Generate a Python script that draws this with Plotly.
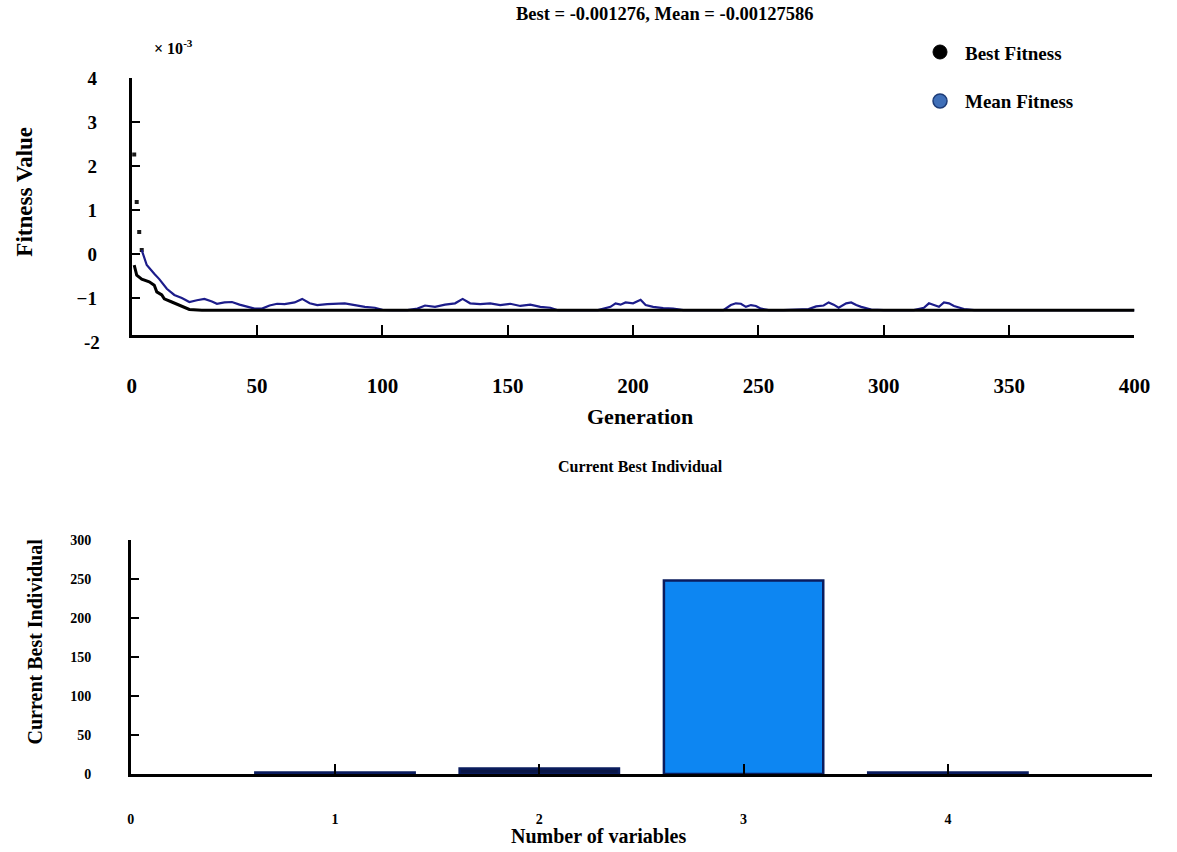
import plotly.graph_objects as go

# ---------------- data ----------------
# Top panel: fitness values (in units of 1e-3) per generation
best_gen = [1, 2, 4, 7, 9, 10, 12, 13, 16, 19, 23, 28, 100, 200, 300, 400]
best_val = [-0.25, -0.48, -0.57, -0.63, -0.71, -0.86, -0.93, -1.02, -1.09, -1.16,
            -1.26, -1.276, -1.276, -1.276, -1.276, -1.276]

mean_gen = [1, 2, 3, 4, 6, 9, 11, 14, 17, 20, 23, 26, 29, 32, 34, 37, 40, 43, 46, 49,
            52, 55, 58, 61, 65, 68, 71, 74, 78, 81, 85, 89, 93, 97, 100, 104, 110, 114,
            117, 121, 125, 129, 132, 135, 139, 143, 147, 151, 155, 159, 163, 167, 170,
            175, 180, 186, 191, 193, 195, 197, 200, 203, 205, 208, 212, 216, 220, 225,
            230, 236, 239, 241, 243, 245, 247, 249, 251, 254, 260, 266, 270, 273, 276,
            278, 280, 282, 285, 287, 289, 291, 293, 295, 300, 306, 312, 316, 318, 320,
            322, 324, 326, 328, 330, 332, 336, 345, 360, 380, 400]
mean_val = [2.26, 1.18, 0.50, 0.09, -0.25, -0.45, -0.57, -0.79, -0.93, -1.00, -1.09,
            -1.05, -1.02, -1.08, -1.13, -1.10, -1.09, -1.15, -1.20, -1.24, -1.24, -1.17,
            -1.13, -1.14, -1.10, -1.02, -1.12, -1.16, -1.14, -1.13, -1.12, -1.16, -1.20,
            -1.22, -1.27, -1.276, -1.276, -1.24, -1.17, -1.20, -1.15, -1.12, -1.02, -1.12,
            -1.14, -1.12, -1.16, -1.13, -1.18, -1.15, -1.20, -1.22, -1.276, -1.276, -1.27,
            -1.276, -1.20, -1.12, -1.15, -1.10, -1.12, -1.04, -1.16, -1.20, -1.23, -1.24,
            -1.276, -1.276, -1.27, -1.276, -1.16, -1.12, -1.13, -1.20, -1.16, -1.18, -1.24,
            -1.276, -1.276, -1.27, -1.25, -1.19, -1.17, -1.10, -1.15, -1.22, -1.12, -1.10,
            -1.16, -1.20, -1.23, -1.26, -1.276, -1.27, -1.276, -1.22, -1.12, -1.16, -1.20,
            -1.10, -1.12, -1.18, -1.22, -1.25, -1.276, -1.276, -1.276, -1.276, -1.276]

gen_ticks = [0, 50, 100, 150, 200, 250, 300, 350, 400]
fit_ticks = [-1, 0, 1, 2, 3, 4]

# Bottom panel: current best individual
var_idx = [1, 2, 3, 4]
var_val = [2, 7, 248, 2]
var_ticks = [0, 1, 2, 3, 4, 5]
var_ticktext = ["0", "1", "2", "3", "4", ""]
ind_ticks = [0, 50, 100, 150, 200, 250, 300]

# ---------------- figure ----------------
W, H = 1177, 852
AREA_W, AREA_TOP, AREA_H = 1177.0, 8.0, 834.0
FONT = "Liberation Serif"
fig = go.Figure()

n_isolated = 4  # first mean points appear as separate dots
fig.add_trace(go.Scatter(x=mean_gen[:n_isolated], y=mean_val[:n_isolated], mode="markers",
                         marker=dict(color="#1a1a1a", size=4, symbol="square"),
                         xaxis="x", yaxis="y", showlegend=False, hoverinfo="skip"))
fig.add_trace(go.Scatter(x=mean_gen[n_isolated - 1:], y=mean_val[n_isolated - 1:], mode="lines",
                         line=dict(color="#1c1c8a", width=2.2),
                         xaxis="x", yaxis="y", showlegend=False, name="Mean Fitness"))
fig.add_trace(go.Scatter(x=best_gen, y=best_val, mode="lines",
                         line=dict(color="#000000", width=3),
                         xaxis="x", yaxis="y", showlegend=False, name="Best Fitness"))

bar_colors = ["#2a6399", "#0a1646", "#0d86f2", "#2a6399"]
fig.add_trace(go.Bar(x=var_idx, y=var_val, width=0.78,
                     marker=dict(color=bar_colors, line=dict(color="#0a1c5e", width=2.5)),
                     xaxis="x2", yaxis="y2", showlegend=False))

def px_x(p):
    return min(1.0, max(0.0, p / AREA_W))

def px_y(p):
    return min(1.0, max(0.0, 1 - (p - AREA_TOP) / AREA_H))

tick_font_big = dict(family=FONT, size=21, color="black", weight="bold")
tick_font_left = dict(family=FONT, size=19, color="black", weight="bold")
tick_font_small_y = dict(family=FONT, size=14, color="black", weight="bold")
tick_font_small_x = dict(family=FONT, size=14, color="black", weight="bold")

fig.update_layout(
    width=W, height=H,
    margin=dict(l=0, r=0, t=0, b=0),
    paper_bgcolor="white", plot_bgcolor="white",
    showlegend=False,
    bargap=0.2,
    xaxis=dict(domain=[px_x(129), px_x(1150)], range=[0, 400], anchor="y",
               tickvals=gen_ticks, ticks="inside", ticklen=10, tickwidth=1.5, tickcolor="black",
               showline=True, linewidth=3, linecolor="black", showgrid=False, zeroline=False,
               tickfont=tick_font_big, ticklabelstandoff=30),
    yaxis=dict(domain=[px_y(333), px_y(76)], range=[-1.84, 4.0], anchor="x",
               tickvals=fit_ticks, ticks="inside", ticklen=8, tickwidth=1.5, tickcolor="black",
               showline=True, linewidth=3, linecolor="black", showgrid=False, zeroline=False,
               tickfont=tick_font_left, ticklabelstandoff=28),
    xaxis2=dict(domain=[px_x(128), px_x(1168)], range=[0, 5], anchor="y2",
                tickvals=var_ticks, ticktext=var_ticktext, ticks="inside", ticklen=10,
                tickwidth=1.8, tickcolor="black",
                showline=True, linewidth=2.5, linecolor="black", showgrid=False, zeroline=False,
                tickfont=tick_font_small_x, ticklabelstandoff=30),
    yaxis2=dict(domain=[px_y(772), px_y(538)], range=[0, 300], anchor="x2",
                tickvals=ind_ticks, ticks="inside", ticklen=9, tickwidth=1.8, tickcolor="black",
                showline=True, linewidth=2.5, linecolor="black", showgrid=False, zeroline=False,
                tickfont=tick_font_small_y, ticklabelstandoff=34),
)

def txt(text, x, y, size, angle=0, xanchor="center", bold=True):
    fig.add_annotation(text=text, x=px_x(x), y=px_y(y), xref="paper", yref="paper",
                       showarrow=False, textangle=angle, xanchor=xanchor, yanchor="middle",
                       font=dict(family=FONT, size=size, color="black",
                                 weight="bold" if bold else "normal"))

txt("Best = -0.001276, Mean = -0.00127586", 672, 12, 18.5)
txt("× 10<sup>-3</sup>", 150, 45, 16, xanchor="left")
txt("-2", 89, 340, 19)
txt("Fitness Value", 20, 190, 23, angle=-90)
txt("Generation", 647, 414, 22)
txt("Current Best Individual", 647, 464, 16)
txt("Current Best Individual", 31, 639, 20, angle=-90)
txt("Number of variables", 604, 834, 20)

# legend
txt("Best Fitness", 975, 51, 19, xanchor="left")
txt("Mean Fitness", 975, 100, 19, xanchor="left")
fig.add_shape(type="circle", xref="paper", yref="paper", xsizemode="pixel", ysizemode="pixel",
              xanchor=px_x(952), yanchor=px_y(50), x0=-7, x1=7, y0=-7, y1=7,
              fillcolor="black", line=dict(color="black", width=1))
fig.add_shape(type="circle", xref="paper", yref="paper", xsizemode="pixel", ysizemode="pixel",
              xanchor=px_x(952), yanchor=px_y(99), x0=-7, x1=7, y0=-7, y1=7,
              fillcolor="#3f6fb8", line=dict(color="#1d3c78", width=1.5))

fig.write_html("out.html")
